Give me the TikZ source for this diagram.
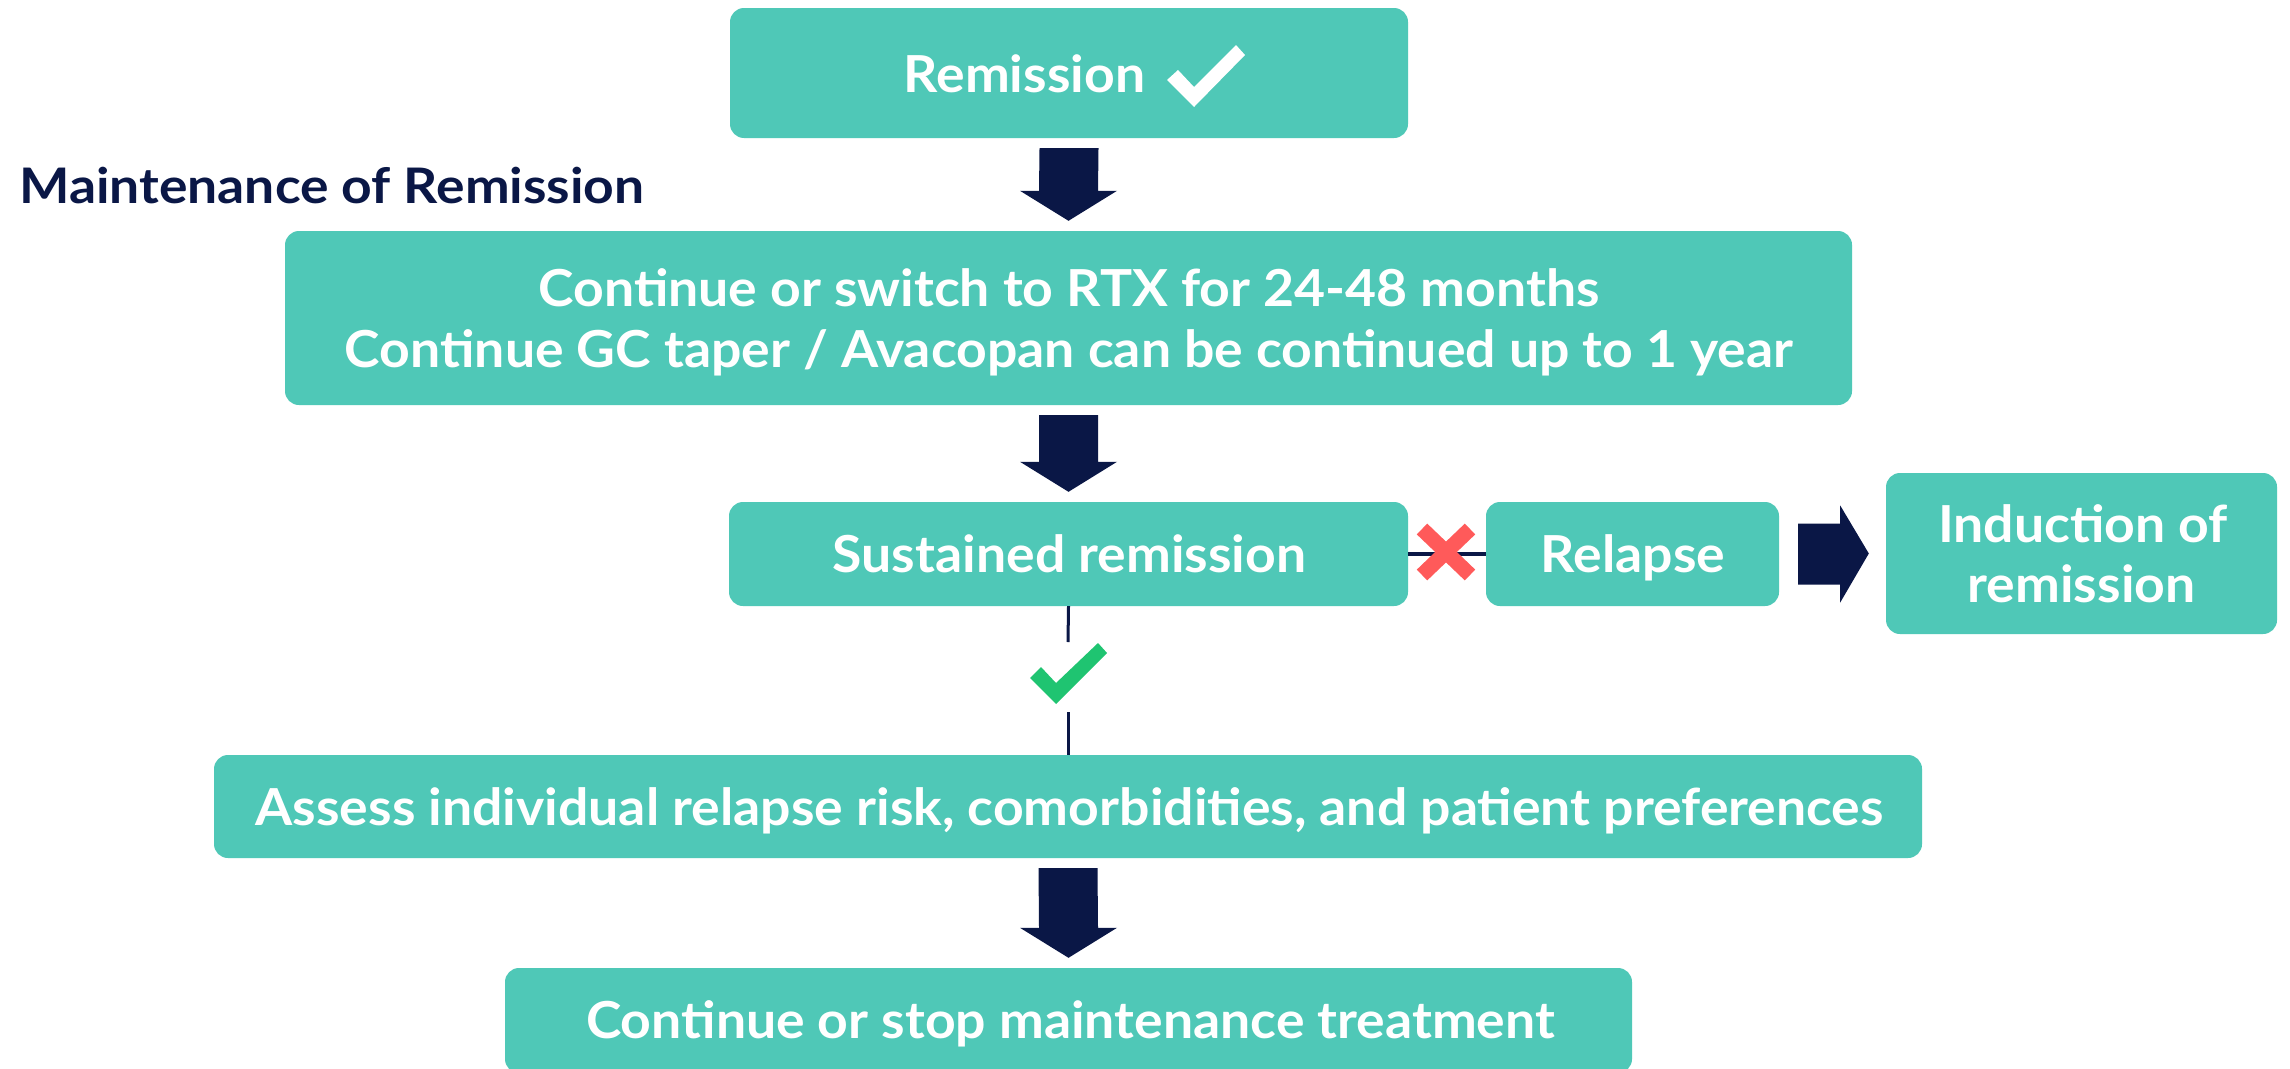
\documentclass[tikz,border=0pt]{standalone}
\usepackage{fontspec}
\setmainfont{Lato}
\usetikzlibrary{calc}
\definecolor{tealbox}{HTML}{4FC8B7}
\definecolor{navy}{HTML}{0A1746}
\definecolor{xred}{HTML}{FF5A5A}
\definecolor{okgreen}{HTML}{1FC471}
\newcommand\bodyfont{\fontsize{51}{61}\selectfont\bfseries\addfontfeature{FakeStretch=1.05}}
\newcommand\titlefont{\fontsize{49}{59}\selectfont\bfseries\addfontfeature{FakeStretch=1.09}}
\newcommand\bdown[2]{%
  \fill[navy] ($(#1.south)+(-29.5,10)$) -- ($(#1.south)+(29.5,10)$)
    -- ($(#2.north)+(29.5,-40)$) -- ($(#2.north)+(48.5,-40)$)
    -- ($(#2.north)+(0,-10)$) -- ($(#2.north)+(-48.5,-40)$)
    -- ($(#2.north)+(-29.5,-40)$) -- cycle;}
\begin{document}
\begin{tikzpicture}[x=1pt,y=-1pt,
  box/.style={fill=tealbox, rounded corners=14pt, inner sep=0pt},
  lbl/.style={text=white, font=\bodyfont, inner sep=0pt, anchor=base},
  link/.style={draw=navy, line width=3pt}]
\clip (0,0) rectangle (2290,1068);
\fill[white] (0,0) rectangle (2290,1068);
% boxes
\node[box, minimum width=678pt, minimum height=130pt] (rem) at (1069,73) {};
\node[box, minimum width=1567pt, minimum height=174pt] (cont) at (1068.5,318) {};
\node[box, minimum width=679pt, minimum height=104pt] (sus) at (1068.5,554) {};
\node[box, minimum width=293pt, minimum height=104pt] (rel) at (1632.5,554) {};
\node[box, minimum width=391pt, minimum height=161pt] (ind) at (2081.5,553.5) {};
\node[box, minimum width=1708pt, minimum height=103pt] (ass) at (1068,806.5) {};
\node[box, minimum width=1127pt, minimum height=105pt] (fin) at (1068.5,1020.5) {};
% texts
\node[lbl] (remt) at (1024.5,92) {Remission};
\node[lbl] (contA) at (1069,306) {Continue or switch to RTX for 24-48 months};
\node[lbl] (contB) at (1069,367) {Continue GC taper / Avacopan can be continued up to 1 year};
\node[lbl] (sust) at (1069.5,572) {Sustained remission};
\node[lbl] (relt) at (1633,572) {Relapse};
\node[lbl] (indA) at (2083,542) {Induction of};
\node[lbl] (indB) at (2081.5,602) {remission};
\node[lbl] (asst) at (1069.5,825) {Assess individual relapse risk, comorbidities, and patient preferences};
\node[lbl] (fint) at (1070.5,1038) {Continue or stop maintenance treatment};
\node[text=navy, font=\titlefont, inner sep=0pt, anchor=base west] (title) at (19,203) {Maintenance of Remission};
% white check in Remission box
\coordinate (wc) at (1194,87);
\fill[white] ($(wc)+(-27,-7)$) -- ($(wc)+(-16,-17)$) -- (wc) -- ($(wc)+(42,-42)$)
  -- ($(wc)+(51,-32)$) -- ($(wc)+(0,20)$) -- cycle;
% block arrows
\bdown{rem}{cont}
\bdown{cont}{sus}
\bdown{ass}{fin}
\fill[navy] ($(rel.east)+(19,-30.5)$) -- ($(rel.east)+(61,-30.5)$) -- ($(rel.east)+(61,-48.5)$)
  -- ($(ind.west)+(-17,0)$) -- ($(rel.east)+(61,48.5)$) -- ($(rel.east)+(61,30.5)$)
  -- ($(rel.east)+(19,30.5)$) -- cycle;
% sustained -> relapse with red X
\draw[navy, line width=4pt] (sus.east) -- (rel.west);
\coordinate (xm) at (1446,552);
\draw[xred, line width=15pt] ($(xm)+(-24,-23)$) -- ($(xm)+(24,23)$);
\draw[xred, line width=15pt] ($(xm)+(24,-23)$) -- ($(xm)+(-24,23)$);
% sustained -> assess with green check
\coordinate (gc) at (1068,675);
\draw[link] (sus.south) -- ($(gc)+(0,-33)$);
\draw[link] ($(gc)+(0,37)$) -- (ass.north);
\fill[okgreen] ($(gc)+(-38,3)$) -- ($(gc)+(-27,-8)$) -- ($(gc)+(-12,8)$) -- ($(gc)+(30,-32)$)
  -- ($(gc)+(39,-22)$) -- ($(gc)+(-12,29)$) -- cycle;
\end{tikzpicture}
\end{document}
